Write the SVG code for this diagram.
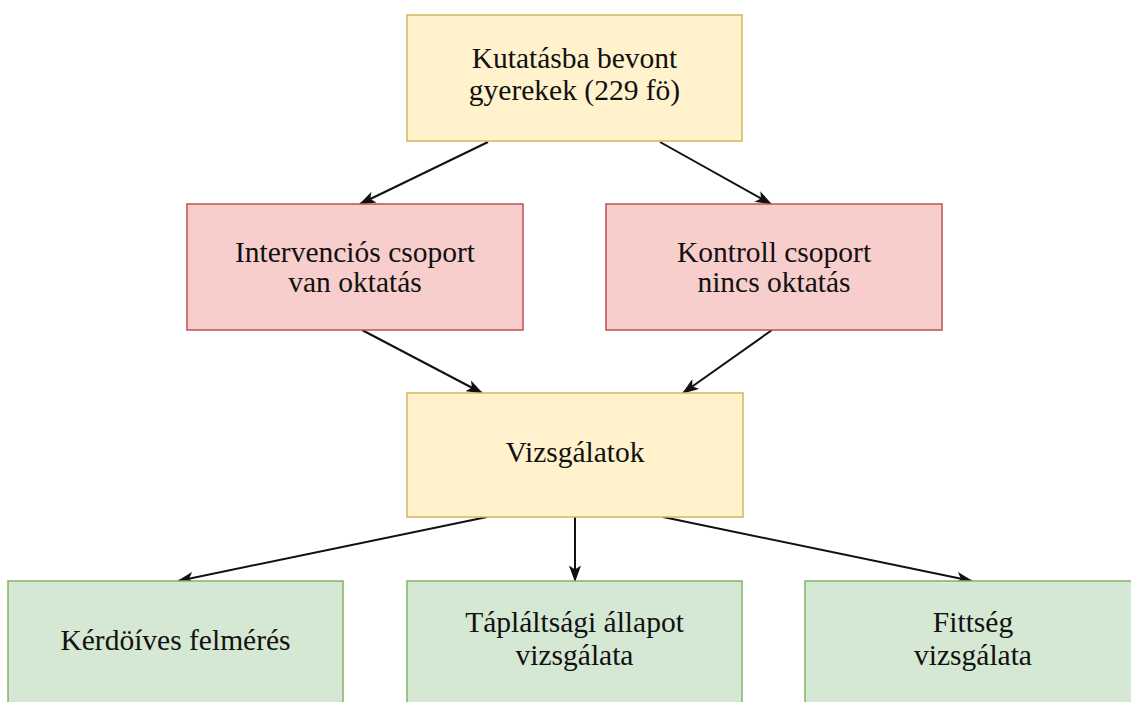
<svg xmlns="http://www.w3.org/2000/svg" width="1131" height="702" viewBox="0 0 1131 702">
<style>
.y{fill:#fff2cc;stroke:#d6b656;stroke-width:1.5}
.r{fill:#f8cecc;stroke:#b85450;stroke-width:1.5}
.g{fill:#d5e8d4;stroke:#82b366;stroke-width:1.5}
text{font-family:"Liberation Serif","Times New Roman",serif;font-size:29.5px;fill:#111;text-anchor:middle}
.c{stroke:#111;stroke-width:2;fill:none;marker-end:url(#a)}
</style>
<defs>
<marker id="a" viewBox="0 0 14 10" refX="13" refY="5" markerWidth="8.5" markerHeight="6" orient="auto" markerUnits="strokeWidth">
<path d="M0,0 L14,5 L0,10 L3.5,5 Z" fill="#111"/>
</marker>
</defs>
<rect width="1131" height="702" fill="#fff"/>
<g id="connectors">
<line class="c" x1="488" y1="142" x2="360" y2="204"/>
<line class="c" x1="660" y1="142" x2="771" y2="204"/>
<line class="c" x1="362" y1="330" x2="482" y2="393"/>
<line class="c" x1="772" y1="330" x2="683" y2="393"/>
<line class="c" x1="487" y1="517" x2="178" y2="581"/>
<line class="c" x1="575" y1="517" x2="575" y2="581"/>
<line class="c" x1="663" y1="517" x2="972" y2="581"/>
</g>
<g id="top">
<rect class="y" x="407" y="15" width="335" height="126"/>
<text x="574.5" y="68">Kutatásba bevont</text>
<text x="574.5" y="100">gyerekek (229 fö)</text>
</g>
<g id="intervencios">
<rect class="r" x="187" y="204" width="336" height="126"/>
<text x="355" y="262">Intervenciós csoport</text>
<text x="355" y="292">van oktatás</text>
</g>
<g id="kontroll">
<rect class="r" x="606" y="204" width="336" height="126"/>
<text x="774" y="262">Kontroll csoport</text>
<text x="774" y="292">nincs oktatás</text>
</g>
<g id="vizsgalatok">
<rect class="y" x="407" y="393" width="336" height="124"/>
<text x="575" y="462">Vizsgálatok</text>
</g>
<g id="kerdoives">
<rect class="g" x="8" y="581" width="335" height="126"/>
<text x="175.5" y="650">Kérdöíves felmérés</text>
</g>
<g id="taplaltsagi">
<rect class="g" x="407" y="581" width="335" height="126"/>
<text x="574.5" y="632">Tápláltsági állapot</text>
<text x="574.5" y="665">vizsgálata</text>
</g>
<g id="fittseg">
<rect class="g" x="805" y="581" width="336" height="126"/>
<text x="973" y="632">Fittség</text>
<text x="973" y="665">vizsgálata</text>
</g>
</svg>
